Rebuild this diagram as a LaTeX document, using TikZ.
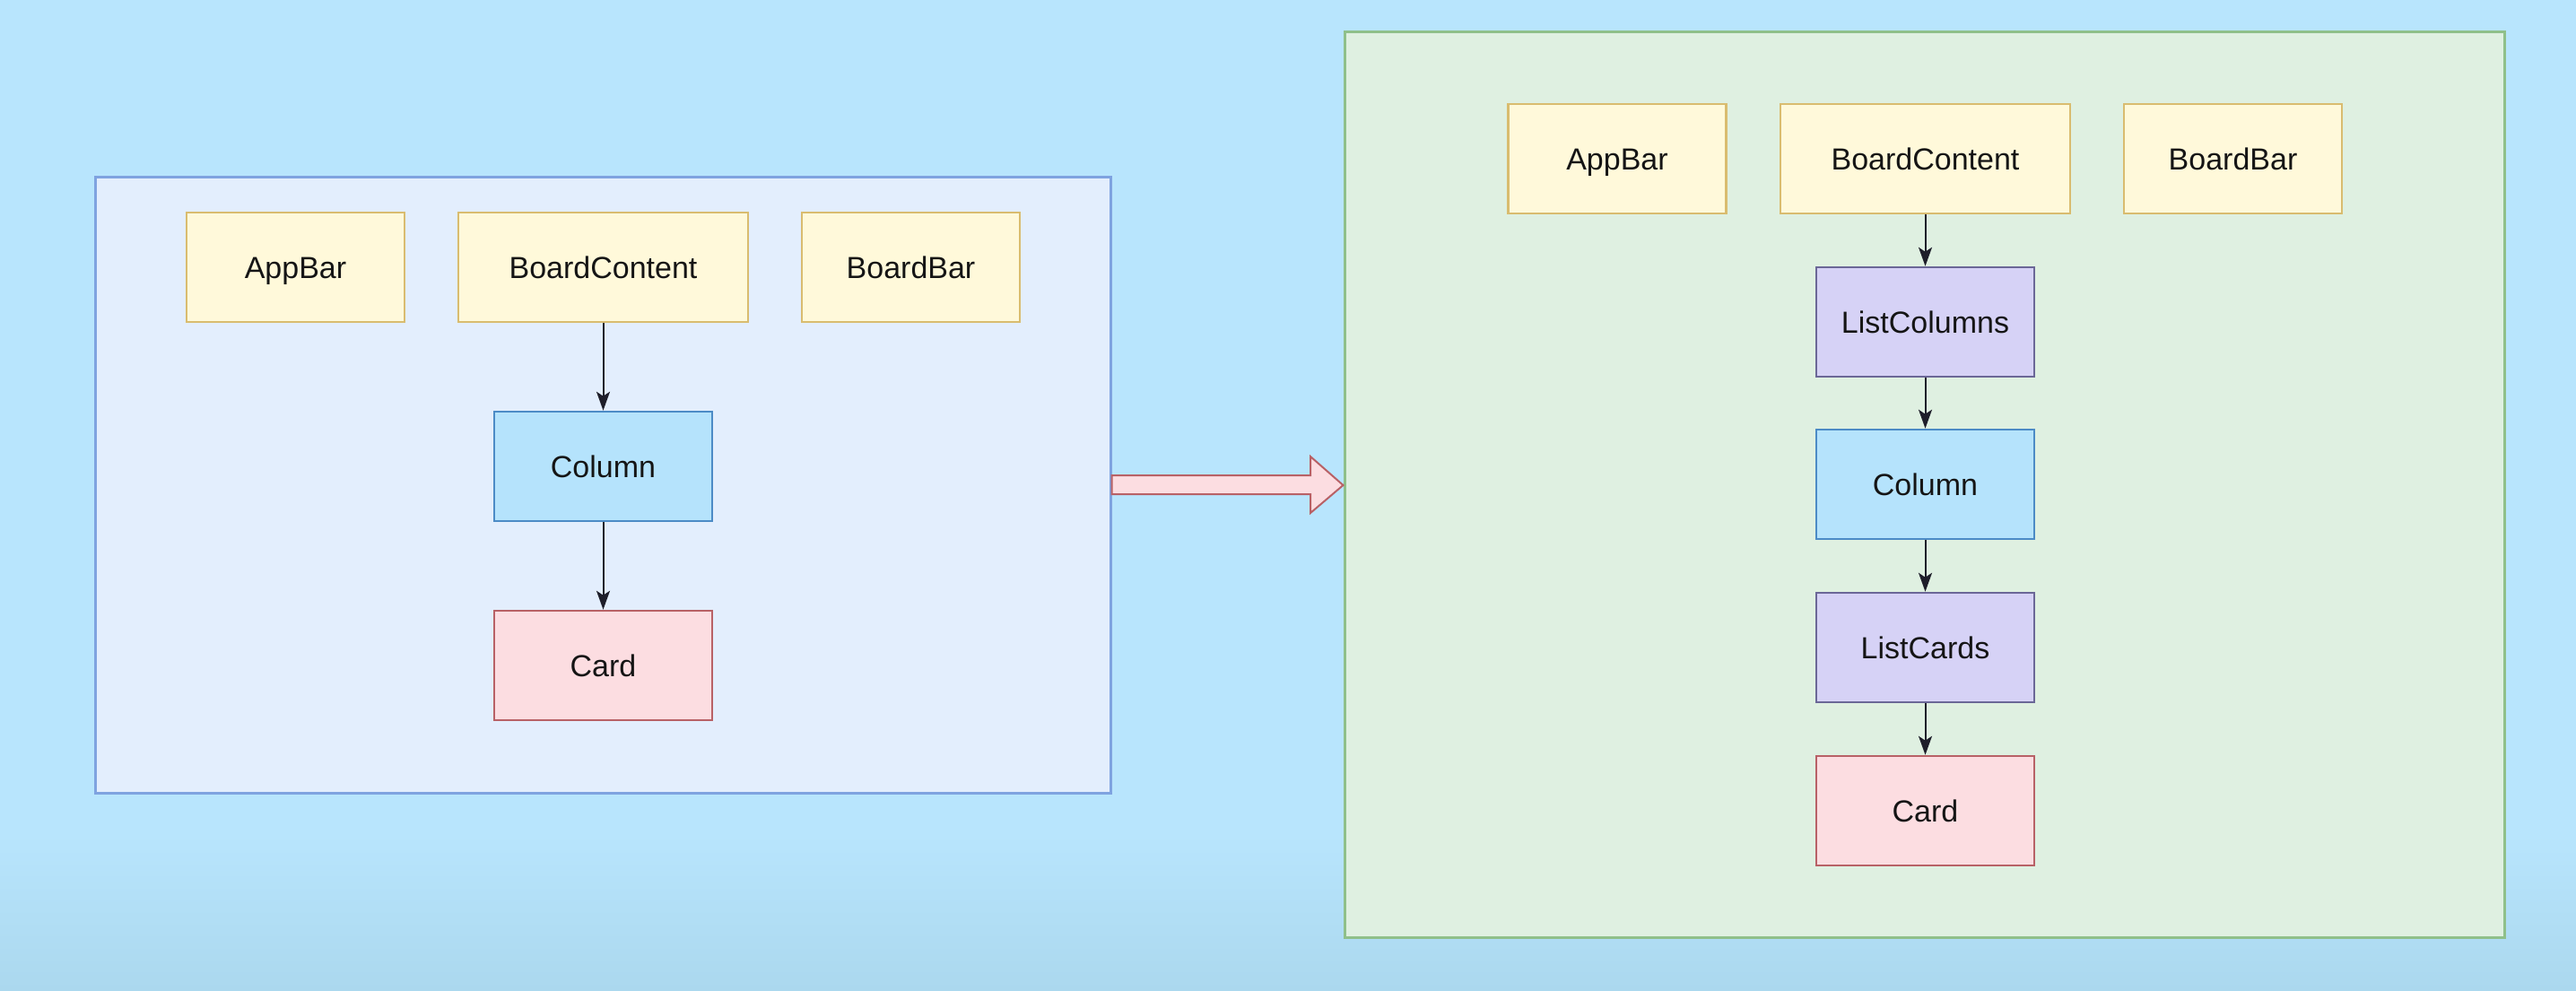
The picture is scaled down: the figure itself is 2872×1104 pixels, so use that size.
\documentclass[tikz,border=0pt]{standalone}
\usepackage{fontspec}
\setmainfont{Liberation Sans}
\usetikzlibrary{arrows.meta}
\definecolor{bgtop}{HTML}{B8E5FD}
\definecolor{bgbot}{HTML}{ABD8EE}
\definecolor{lpfill}{HTML}{E3EEFD}
\definecolor{lpline}{HTML}{7FA3E0}
\definecolor{rpfill}{HTML}{DFF0E1}
\definecolor{rpline}{HTML}{8FC08A}
\definecolor{yfill}{HTML}{FFF9DA}
\definecolor{yline}{HTML}{D9BC6F}
\definecolor{pfill}{HTML}{D6D2F6}
\definecolor{pline}{HTML}{6B6797}
\definecolor{cfill}{HTML}{B5E3FC}
\definecolor{cline}{HTML}{4C8BC6}
\definecolor{kfill}{HTML}{FCDDE1}
\definecolor{kline}{HTML}{B86166}
\definecolor{txt}{HTML}{151515}
\definecolor{edge}{HTML}{1E1E2A}
\tikzset{
  box/.style={rectangle, line width=2.5pt, minimum height=122pt, minimum width=243pt,
    inner sep=0pt, text height=24pt, text depth=0pt,
    font=\fontsize{34}{40}\selectfont, text=txt},
  ybox/.style={box, fill=yfill, draw=yline},
  pbox/.style={box, fill=pfill, draw=pline},
  cbox/.style={box, fill=cfill, draw=cline},
  kbox/.style={box, fill=kfill, draw=kline},
  wide/.style={minimum width=323pt},
  link/.style={draw=edge, line width=2pt, -{Stealth[length=21pt,width=15pt,inset=5pt]}},
  panel/.style={rectangle, line width=3pt, inner sep=0pt},
}
\begin{document}
\begin{tikzpicture}[x=1pt,y=-1pt]
\useasboundingbox (0,0) rectangle (2872,1104);
\fill[bgtop] (0,0) rectangle (2872,1104);
\shade[top color=bgtop, bottom color=bgbot] (0,930) rectangle (2872,1104);
% panels
\node[panel, fill=lpfill, draw=lpline, minimum width=1132pt, minimum height=687pt] (lp) at (672,540.5) {};
\node[panel, fill=rpfill, draw=rpline, minimum width=1293pt, minimum height=1010pt] (rp) at (2145.5,540) {};
% big arrow
\draw[line width=2pt, draw=kline, fill=kfill, line join=miter]
  (lp.east |- 0,530) -- (1461,530) -- (1461,509) -- (rp.west |- 0,541) -- (1461,572) -- (1461,551) -- (lp.east |- 0,551) -- cycle;
% left diagram
\node[ybox] (la) at (329.5,298) {AppBar};
\node[ybox, wide] (lb) at (672.5,298) {BoardContent};
\node[ybox] (lc) at (1015.5,298) {BoardBar};
\node[cbox] (lcol) at (672.5,520) {Column};
\node[kbox] (lcard) at (672.5,742) {Card};
\draw[link] (lb) -- (lcol);
\draw[link] (lcol) -- (lcard);
% right diagram
\node[ybox] (ra) at (1803,177) {AppBar};
\node[ybox, wide] (rb) at (2146.5,177) {BoardContent};
\node[ybox] (rc) at (2489.5,177) {BoardBar};
\node[pbox] (rlc) at (2146.5,359) {ListColumns};
\node[cbox] (rcol) at (2146.5,540) {Column};
\node[pbox] (rlk) at (2146.5,722) {ListCards};
\node[kbox] (rcard) at (2146.5,904) {Card};
\draw[link] (rb) -- (rlc);
\draw[link] (rlc) -- (rcol);
\draw[link] (rcol) -- (rlk);
\draw[link] (rlk) -- (rcard);
\end{tikzpicture}
\end{document}
